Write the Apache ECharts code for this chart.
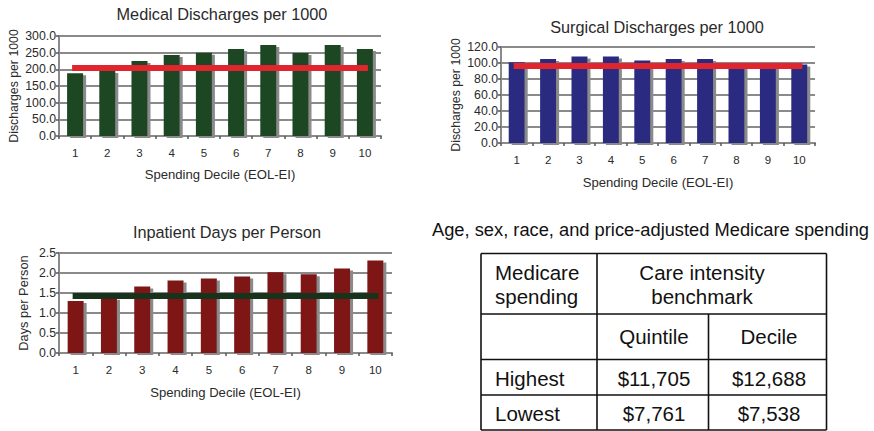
<!DOCTYPE html>
<html>
<head>
<meta charset="utf-8">
<script src="https://cdn.jsdelivr.net/npm/echarts@6/dist/echarts.min.js"></script>
<style>
html,body{margin:0;padding:0;background:#fff;}
#c{width:874px;height:431px;}
</style>
</head>
<body>
<div id="c"></div>
<script>
// ---- data ----
const deciles = ['1','2','3','4','5','6','7','8','9','10'];
const medicalDischarges = [188, 195, 225, 243, 250, 261, 273, 249, 273, 261];
const medicalBenchmark = 204;
const surgicalDischarges = [101, 105, 108, 108, 103, 105, 105, 98, 97, 98];
const surgicalBenchmark = 97;
const inpatientDays = [1.3, 1.38, 1.66, 1.81, 1.86, 1.91, 2.02, 1.97, 2.11, 2.31];
const inpatientBenchmark = 1.44;

const titles = ['Medical Discharges per 1000', 'Surgical Discharges per 1000', 'Inpatient Days per Person'];
const yNames = ['Discharges per 1000', 'Discharges per 1000', 'Days per Person'];
const xName = 'Spending Decile (EOL-EI)';

const tableTitle = 'Age, sex, race, and price-adjusted Medicare spending';
const tableHeader1 = ['Medicare\nspending', 'Care intensity\nbenchmark'];
const tableHeader2 = ['', 'Quintile', 'Decile'];
const rowLabels = ['Highest', 'Lowest'];
const quintileValues = ['$11,705', '$7,761'];
const decileValues = ['$12,688', '$7,538'];

// ---- layout ----
const FONT = '"Liberation Sans", Arial, Helvetica, sans-serif';
const grids = [
  {left: 59, top: 36, width: 322, height: 100},
  {left: 501, top: 47, width: 314, height: 96},
  {left: 59, top: 253, width: 333, height: 100}
];
const yCfg = [
  {min: 0, max: 300, interval: 50, nameGap: 39, nameSize: 12.3},
  {min: 0, max: 120, interval: 20, nameGap: 39, nameSize: 12.3},
  {min: 0, max: 2.5, interval: 0.5, nameGap: 29, nameSize: 12.8}
];
const xNameGaps = [31.5, 33, 33];
const barColors = ['#1b4621', '#2b2c80', '#7e1518'];
const lineColors = ['#e0252e', '#e0252e', '#17331b'];
const seriesData = [medicalDischarges, surgicalDischarges, inpatientDays];
const benchmarks = [medicalBenchmark, surgicalBenchmark, inpatientBenchmark];
const titlePos = [{x: 222, y: 6}, {x: 657, y: 19}, {x: 227, y: 224}];

const gridGray = '#8a8a8a';

const option = {
  animation: false,
  backgroundColor: '#fff',
  title: titles.map((t, i) => ({
    text: t, left: titlePos[i].x, top: titlePos[i].y, textAlign: 'center', padding: 0,
    textStyle: {fontFamily: FONT, fontSize: 16.3, fontWeight: 'normal', color: '#2a2a2a'}
  })),
  grid: grids,
  xAxis: grids.map((g, i) => ({
    type: 'category', gridIndex: i, data: deciles,
    name: xName, nameLocation: 'middle', nameGap: xNameGaps[i],
    nameTextStyle: {fontFamily: FONT, fontSize: 13.1, color: '#2a2a2a'},
    axisLine: {show: true, lineStyle: {color: gridGray, width: 2}},
    axisTick: {show: true, length: 3, lineStyle: {color: '#555', width: 1.5}},
    axisLabel: {fontFamily: FONT, fontSize: 11.5, color: '#2a2a2a', margin: 11},
    splitLine: {show: false}
  })),
  yAxis: grids.map((g, i) => ({
    type: 'value', gridIndex: i, min: yCfg[i].min, max: yCfg[i].max, interval: yCfg[i].interval,
    name: yNames[i], nameLocation: 'middle', nameGap: yCfg[i].nameGap,
    nameTextStyle: {fontFamily: FONT, fontSize: yCfg[i].nameSize, color: '#2a2a2a'},
    axisLine: {show: true, lineStyle: {color: gridGray, width: 2}},
    axisTick: {show: true, length: 3, lineStyle: {color: '#555', width: 1.5}},
    axisLabel: {fontFamily: FONT, fontSize: 12.3, color: '#2a2a2a', margin: 3,
      formatter: v => v.toFixed(1)},
    splitLine: {show: true, lineStyle: {color: gridGray, width: 2}}
  })),
  series: seriesData.map((d, i) => ({
    type: 'bar', xAxisIndex: i, yAxisIndex: i, data: d, barWidth: 16,
    itemStyle: {color: barColors[i], shadowColor: '#8a8a8a', shadowOffsetX: 3, shadowOffsetY: 2, shadowBlur: 0},
    markLine: {
      silent: true, symbol: ['none', 'none'], label: {show: false},
      lineStyle: {color: lineColors[i], width: 6, type: 'solid', cap: 'square'},
      data: [[{xAxis: 0, yAxis: benchmarks[i]}, {xAxis: deciles.length - 1, yAxis: benchmarks[i]}]]
    }
  })),
  graphic: []
};

// ---- table ----
const tX = [481, 597, 708.5, 826.5];
const tY = [253.5, 314, 359.5, 395, 430];
const g = option.graphic;
const lineStyle = {stroke: '#111', lineWidth: 1.6};
tY.forEach(y => g.push({type: 'line', shape: {x1: tX[0], y1: y, x2: tX[3], y2: y}, style: lineStyle}));
g.push({type: 'line', shape: {x1: tX[0], y1: tY[0], x2: tX[0], y2: tY[4]}, style: lineStyle});
g.push({type: 'line', shape: {x1: tX[1], y1: tY[0], x2: tX[1], y2: tY[4]}, style: lineStyle});
g.push({type: 'line', shape: {x1: tX[2], y1: tY[1], x2: tX[2], y2: tY[4]}, style: lineStyle});
g.push({type: 'line', shape: {x1: tX[3], y1: tY[0], x2: tX[3], y2: tY[4]}, style: lineStyle});

const tFont = 'normal 20.5px ' + FONT;
function txt(s, x, y, align) {
  g.push({type: 'text', x: x, y: y, style: {text: s, font: tFont, fill: '#111', textAlign: align, textVerticalAlign: 'middle', lineHeight: 24}});
}
g.push({type: 'text', x: 432, y: 229, style: {text: tableTitle, font: 'normal 18.3px ' + FONT, fill: '#111', textAlign: 'left', textVerticalAlign: 'middle'}});
txt(tableHeader1[0], 495, 284.5, 'left');
txt(tableHeader1[1], 702, 284.5, 'center');
txt(tableHeader2[0], 495, 336.5, 'left');
txt(tableHeader2[1], 654, 336.5, 'center');
txt(tableHeader2[2], 769, 336.5, 'center');
rowLabels.forEach((r, k) => {
  const yc = k === 0 ? 378 : 413;
  txt(r, 495, yc, 'left');
  txt(quintileValues[k], 654, yc, 'center');
  txt(decileValues[k], 769, yc, 'center');
});

const chart = echarts.init(document.getElementById('c'), null, {renderer: 'svg', width: 874, height: 431});
chart.setOption(option);
</script>
</body>
</html>
